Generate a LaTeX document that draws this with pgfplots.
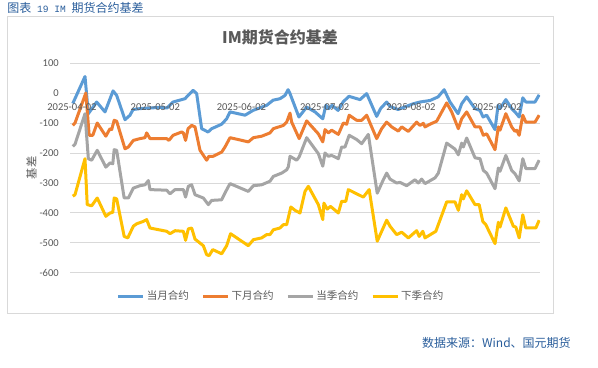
\documentclass[border=0pt]{standalone}
\usepackage{fontspec}
\setmainfont{Carlito}
\newfontfamily\cjk{Noto Sans CJK SC}
\newfontfamily\mono{Liberation Mono}
\usepackage{pgfplots}
\pgfplotsset{compat=1.18}
\definecolor{cblue}{HTML}{5B9BD5}
\definecolor{corange}{HTML}{ED7D31}
\definecolor{cgray}{HTML}{A5A5A5}
\definecolor{cyellow}{HTML}{FFC000}
\definecolor{gridgray}{HTML}{D9D9D9}
\definecolor{textgray}{HTML}{595959}
\definecolor{capblue}{HTML}{2A5E9C}
\pgfplotsset{frame/.style={
  scale only axis, width=352.5pt, height=157.5pt,
  at={(52.5pt,70.5pt)}, anchor=south west,
  xmin=-0.7, xmax=168.5, ymin=-600, ymax=100,
  axis line style={draw=none}, major tick length=0pt,
  tick label style={font=\fontsize{7.9}{9}\selectfont, text=textgray}}}
\begin{document}
\begin{tikzpicture}
\fill[white] (0,0) rectangle (448.5pt,275.25pt);
\path[use as bounding box] (0,0) rectangle (448.5pt,275.25pt);
\draw[gridgray, line width=0.75pt] (5.25pt,40.5pt) rectangle (414.75pt,262.5pt);
\node[anchor=west, text=capblue, font=\cjk\fontsize{9}{10}\selectfont, inner sep=0pt] at (5.25pt,269.25pt) {图表{\mono\fontsize{7.2}{9}\selectfont\ 19 IM\ }期货合约基差};
\node[font=\cjk\bfseries\fontsize{12}{14}\selectfont, text=textgray, inner sep=0pt] at (210pt,247.5pt) {IM期货合约基差};
\node[anchor=east, text=capblue, font=\cjk\fontsize{9}{10}\selectfont, inner sep=0pt] at (428.25pt,18pt) {数据来源：Wind、国元期货};
\node[rotate=90, text=textgray, font=\cjk\fontsize{8.5}{10}\selectfont, inner sep=0pt] at (23.5pt,149.25pt) {基差};
\begin{axis}[
  frame,
  ytick={-600,-500,-400,-300,-200,-100,0,100},
  yticklabels={-600,-500,-400,-300,-200,-100,0,100},
  xtick=\empty,
  ymajorgrids, grid style={draw=gridgray, line width=0.75pt},
  yticklabel style={anchor=east, xshift=-4.9pt},
  legend columns=4,
  legend style={at={(0.449,-0.11)}, anchor=center, draw=none, fill=none,
    font=\cjk\fontsize{7.9}{9}\selectfont, text=textgray,
    nodes={inner xsep=1.5pt},
    /tikz/every even column/.append style={column sep=8pt}},
  legend image code/.code={\draw[#1, line width=2.25pt] (0pt,0pt) -- (18.75pt,0pt);},
  every axis plot/.append style={line width=2.25pt, line join=round, mark=none},
]
\addplot[cblue] coordinates {(0.3,-35) (4.7,55) (5.9,-69) (8.9,-30) (11.9,-63) (14.8,7) (16.1,-8) (19.1,-89) (20.9,-74) (22.0,-55) (24.5,-52) (28.1,-50) (31.7,-48) (34.2,-50) (36.4,-30) (40.7,-19) (41.8,-8) (43.6,9) (44.9,-2) (46.7,-119) (49.0,-130) (50.3,-119) (53.9,-104) (55.7,-86) (56.9,-63) (62.3,-74) (65.2,-58) (70.1,-41) (72.4,-24) (74.9,-19) (76.7,-8) (77.8,11) (78.5,-2) (81.7,-80) (84.5,-47) (87.5,-63) (90.3,-86) (91.4,-41) (92.5,-52) (93.6,-41) (95.8,-58) (97.6,-30) (99.7,-11) (103.7,-22) (106.1,-2) (109.7,-78) (111.1,-52) (113.3,-30) (114.5,-45) (117.4,-55) (122.8,-36) (125.3,-30) (128.9,-25) (131.8,-13) (134.0,11) (136.1,-30) (139.0,-69) (140.3,-36) (142.1,-13) (145.1,-52) (146.9,-58) (148.0,-80) (149.3,-74) (152.3,-122) (153.4,-41) (154.1,-52) (156.2,-22) (158.3,-52) (159.5,-63) (161.0,-80) (162.3,-16) (163.4,-30) (166.7,-30) (168.2,-6)};
\addlegendentry{当月合约}
\addplot[corange] coordinates {(0.3,-108) (1.1,-100) (5.0,0) (6.2,-141) (7.5,-141) (9.1,-100) (12.2,-144) (13.7,-119) (14.3,-122) (15.2,-91) (16.1,-94) (19.1,-186) (20.3,-180) (22.1,-158) (24.5,-152) (26.3,-149) (26.9,-133) (28.1,-152) (34.1,-152) (34.9,-158) (36.4,-141) (39.5,-130) (40.1,-133) (40.9,-158) (41.8,-119) (43.1,-108) (44.3,-113) (46.1,-191) (48.5,-224) (49.3,-211) (50.8,-211) (53.9,-197) (55.1,-180) (56.9,-149) (59.8,-155) (63.5,-163) (65.3,-149) (68.3,-144) (71.3,-133) (72.5,-119) (76.1,-108) (77.3,-97) (78.5,-67) (79.1,-97) (81.8,-152) (84.5,-93) (88.7,-136) (90.3,-163) (91.1,-122) (92.3,-133) (93.5,-124) (95.9,-138) (97.7,-100) (98.9,-104) (99.8,-74) (102.5,-91) (104.3,-91) (106.1,-74) (109.7,-152) (111.5,-119) (113.3,-97) (115.1,-113) (117.5,-127) (118.7,-113) (121.1,-128) (124.1,-97) (125.3,-108) (126.5,-101) (127.1,-113) (128.9,-104) (131.3,-94) (134.9,-33) (136.7,-63) (139.1,-119) (140.3,-86) (142.1,-63) (145.1,-113) (146.9,-113) (148.1,-141) (149.3,-136) (152.3,-189) (153.5,-113) (154.1,-124) (156.2,-69) (158.3,-113) (159.5,-128) (160.1,-124) (161.0,-141) (162.3,-74) (163.4,-97) (166.7,-97) (168.2,-74)};
\addlegendentry{下月合约}
\addplot[cgray] coordinates {(0.3,-178) (1.1,-171) (4.7,-69) (5.9,-219) (7.1,-224) (9.1,-191) (12.2,-247) (13.7,-233) (14.7,-236) (15.2,-189) (16.1,-191) (18.8,-350) (20.3,-350) (22.1,-317) (24.5,-309) (26.3,-306) (27.5,-292) (28.1,-322) (34.1,-324) (35.3,-336) (37.1,-322) (40.1,-322) (40.9,-347) (41.9,-311) (43.1,-306) (44.3,-339) (47.3,-350) (49.1,-372) (50.3,-358) (53.9,-356) (55.1,-333) (56.9,-302) (63.5,-328) (65.3,-309) (68.3,-306) (71.3,-294) (72.5,-278) (75.5,-267) (77.3,-256) (77.9,-246) (78.5,-211) (80.9,-224) (81.8,-213) (84.5,-149) (88.7,-202) (90.3,-244) (91.1,-200) (92.3,-211) (93.5,-208) (95.9,-219) (97.1,-180) (98.3,-180) (99.8,-141) (102.5,-155) (104.3,-169) (106.7,-138) (109.9,-334) (112.1,-289) (113.3,-267) (114.5,-287) (116.9,-300) (118.1,-298) (120.5,-309) (123.5,-289) (124.7,-300) (125.9,-287) (127.1,-302) (130.7,-283) (131.9,-267) (134.9,-167) (137.9,-187) (139.1,-206) (140.3,-167) (140.9,-180) (142.1,-150) (145.1,-216) (146.9,-219) (148.1,-258) (149.3,-267) (152.3,-319) (153.5,-250) (154.1,-261) (156.2,-208) (158.3,-258) (159.5,-269) (161.0,-293) (162.3,-219) (163.4,-252) (166.7,-252) (168.2,-224)};
\addlegendentry{当季合约}
\addplot[cyellow] coordinates {(0.3,-344) (1.1,-339) (4.7,-219) (5.5,-372) (7.1,-376) (9.1,-350) (12.2,-411) (13.7,-400) (14.7,-398) (15.2,-350) (16.1,-353) (18.8,-478) (20.1,-483) (22.1,-444) (23.3,-436) (25.7,-428) (26.9,-422) (28.1,-450) (34.1,-461) (35.3,-469) (37.1,-459) (40.1,-461) (40.9,-491) (41.9,-453) (43.1,-450) (44.3,-487) (47.3,-509) (48.5,-539) (49.4,-542) (50.7,-522) (53.9,-536) (55.7,-509) (57.1,-469) (63.5,-509) (65.3,-489) (68.3,-483) (70.1,-472) (71.3,-472) (72.5,-456) (74.9,-450) (76.1,-439) (77.3,-439) (78.8,-380) (80.3,-391) (82.1,-400) (83.9,-328) (85.1,-311) (88.7,-372) (90.3,-422) (90.7,-367) (91.9,-387) (93.1,-378) (95.9,-400) (97.1,-361) (98.6,-361) (99.5,-322) (102.5,-336) (104.9,-347) (107.0,-322) (109.9,-494) (111.5,-461) (113.3,-424) (114.5,-444) (116.9,-472) (118.7,-464) (121.1,-483) (124.1,-459) (125.0,-478) (126.3,-461) (127.1,-483) (131.0,-461) (134.9,-363) (137.9,-363) (139.1,-391) (140.3,-339) (140.9,-353) (142.1,-326) (145.1,-372) (146.6,-372) (147.9,-428) (149.0,-439) (152.3,-502) (153.5,-431) (154.1,-447) (156.2,-383) (158.9,-444) (159.8,-447) (161.0,-483) (162.3,-406) (163.4,-450) (167.0,-450) (168.2,-424)};
\addlegendentry{下季合约}
\end{axis}
\begin{axis}[
  frame,
  ytick=\empty,
  xtick={0,30,61,91,122,153},
  xticklabels={2025-04-02,2025-05-02,2025-06-02,2025-07-02,2025-08-02,2025-09-02},
  xticklabel style={anchor=center, yshift=124.7pt},
]
\end{axis}
\end{tikzpicture}
\end{document}
